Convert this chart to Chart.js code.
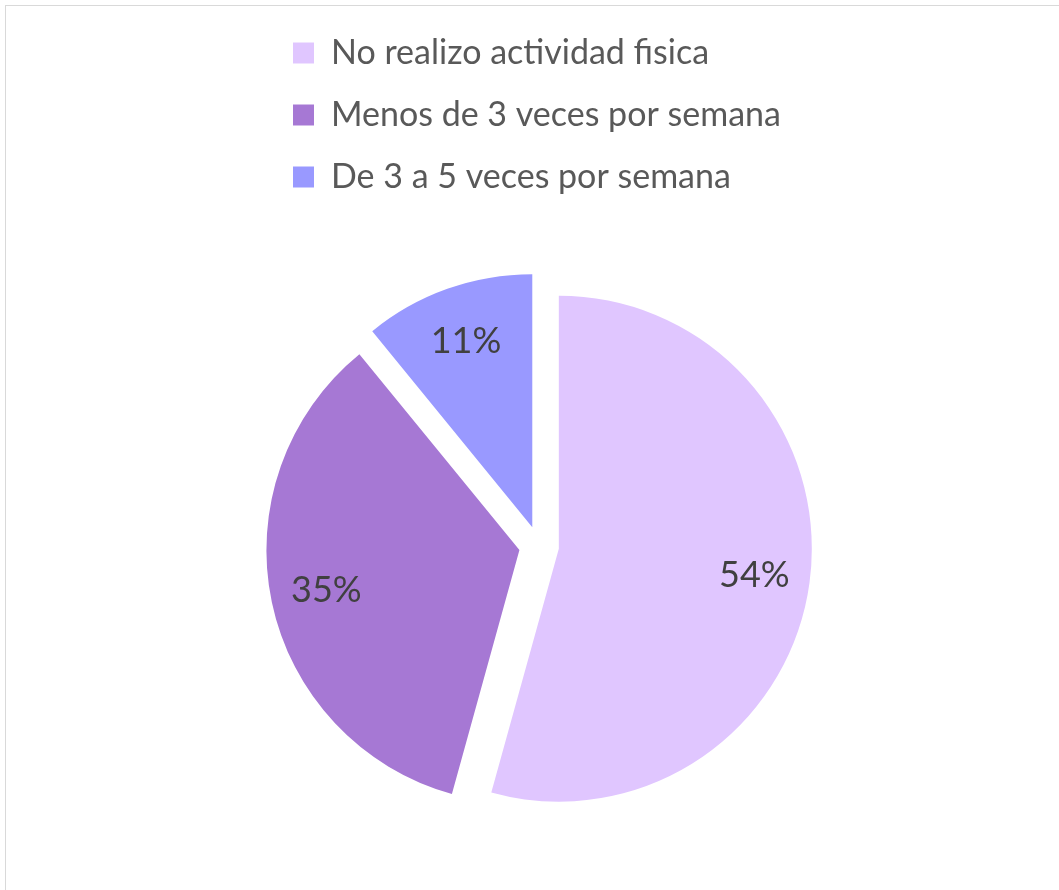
<!DOCTYPE html>
<html>
<head>
<meta charset="utf-8">
<script src="https://cdn.jsdelivr.net/npm/chart.js@4.4.0/dist/chart.umd.min.js"></script>
<style>
  html, body { margin: 0; padding: 0; background: #ffffff; overflow: hidden; }
  #marco { position: absolute; left: 5px; top: 5px; width: 1100px; height: 940px; border: 1px solid #d9d9d9; }
  #contenedor { position: absolute; left: 0; top: 0; width: 1059px; height: 890px; }
</style>
</head>
<body>
<div id="marco"></div>
<div id="contenedor"><canvas id="grafico"></canvas></div>
<script>
// datos del grafico (porcentajes, se muestran redondeados)
var categorias = ["No realizo actividad fisica", "Menos de 3 veces por semana", "De 3 a 5 veces por semana"];
var valores = [54.3, 34.8, 10.9];
var colores = ["#E0C6FF", "#A678D4", "#9999FF"];

// Chart.js agranda y estrecha un poco las porciones separadas;
// aqui se deja el mismo radio y el mismo angulo para todas
var radioPlugin = {
    id: 'radioIgual',
    beforeDatasetsDraw: function (chart) {
        chart.getDatasetMeta(0).data.forEach(function (arco) {
            var desp = (arco.options.offset || 0) / 4;
            var fix = 1 - Math.sin(Math.min(Math.PI, arco.circumference || 0));
            var ajuste = desp * fix;
            var giro = ajuste > 0 ? ajuste / Math.PI / (2 * arco.outerRadius) : 0;
            arco._ajuste = ajuste;
            arco._giro = giro;
            arco.outerRadius -= ajuste;
            arco.startAngle -= giro;
            arco.endAngle += giro;
        });
    },
    afterDatasetsDraw: function (chart) {
        chart.getDatasetMeta(0).data.forEach(function (arco) {
            arco.outerRadius += arco._ajuste || 0;
            arco.startAngle += arco._giro || 0;
            arco.endAngle -= arco._giro || 0;
            arco._ajuste = 0;
            arco._giro = 0;
        });
    }
};

// etiquetas de porcentaje dentro de cada porcion
var etiquetasPlugin = {
    id: 'etiquetas',
    afterDatasetsDraw: function (chart) {
        var ctx = chart.ctx;
        var meta = chart.getDatasetMeta(0);
        var total = valores.reduce(function (a, b) { return a + b; }, 0);
        ctx.save();
        ctx.font = "36px Lato";
        ctx.fillStyle = "#404040";
        ctx.textAlign = "center";
        ctx.textBaseline = "middle";
        meta.data.forEach(function (arco, i) {
            var p = arco.getProps(['x', 'y', 'startAngle', 'endAngle', 'outerRadius']);
            var medio = (p.startAngle + p.endAngle) / 2;
            var desp = (arco.options.offset || 0) / 4;
            var r = p.outerRadius * 0.78 + desp;
            var x = p.x + Math.cos(medio) * r;
            var y = p.y + Math.sin(medio) * r;
            ctx.fillText(Math.round(valores[i] / total * 100) + "%", x, y);
        });
        ctx.restore();
    }
};

var ctx = document.getElementById("grafico");
var grafico = new Chart(ctx, {
    type: 'pie',
    data: {
        labels: categorias,
        datasets: [{
            data: valores,
            backgroundColor: colores,
            borderWidth: 0,
            offset: 80
        }]
    },
    options: {
        responsive: true,
        maintainAspectRatio: false,
        animation: false,
        radius: 253,
        layout: { padding: { left: 265, right: 246, top: 8, bottom: 2 } },
        plugins: {
            tooltip: { enabled: false },
            legend: {
                position: 'top',
                align: 'start',
                labels: {
                    boxWidth: 21,
                    boxHeight: 21,
                    padding: 28,
                    color: "#595959",
                    font: { family: "Lato", size: 34 }
                }
            }
        }
    },
    plugins: [radioPlugin, etiquetasPlugin]
});
</script>
</body>
</html>
